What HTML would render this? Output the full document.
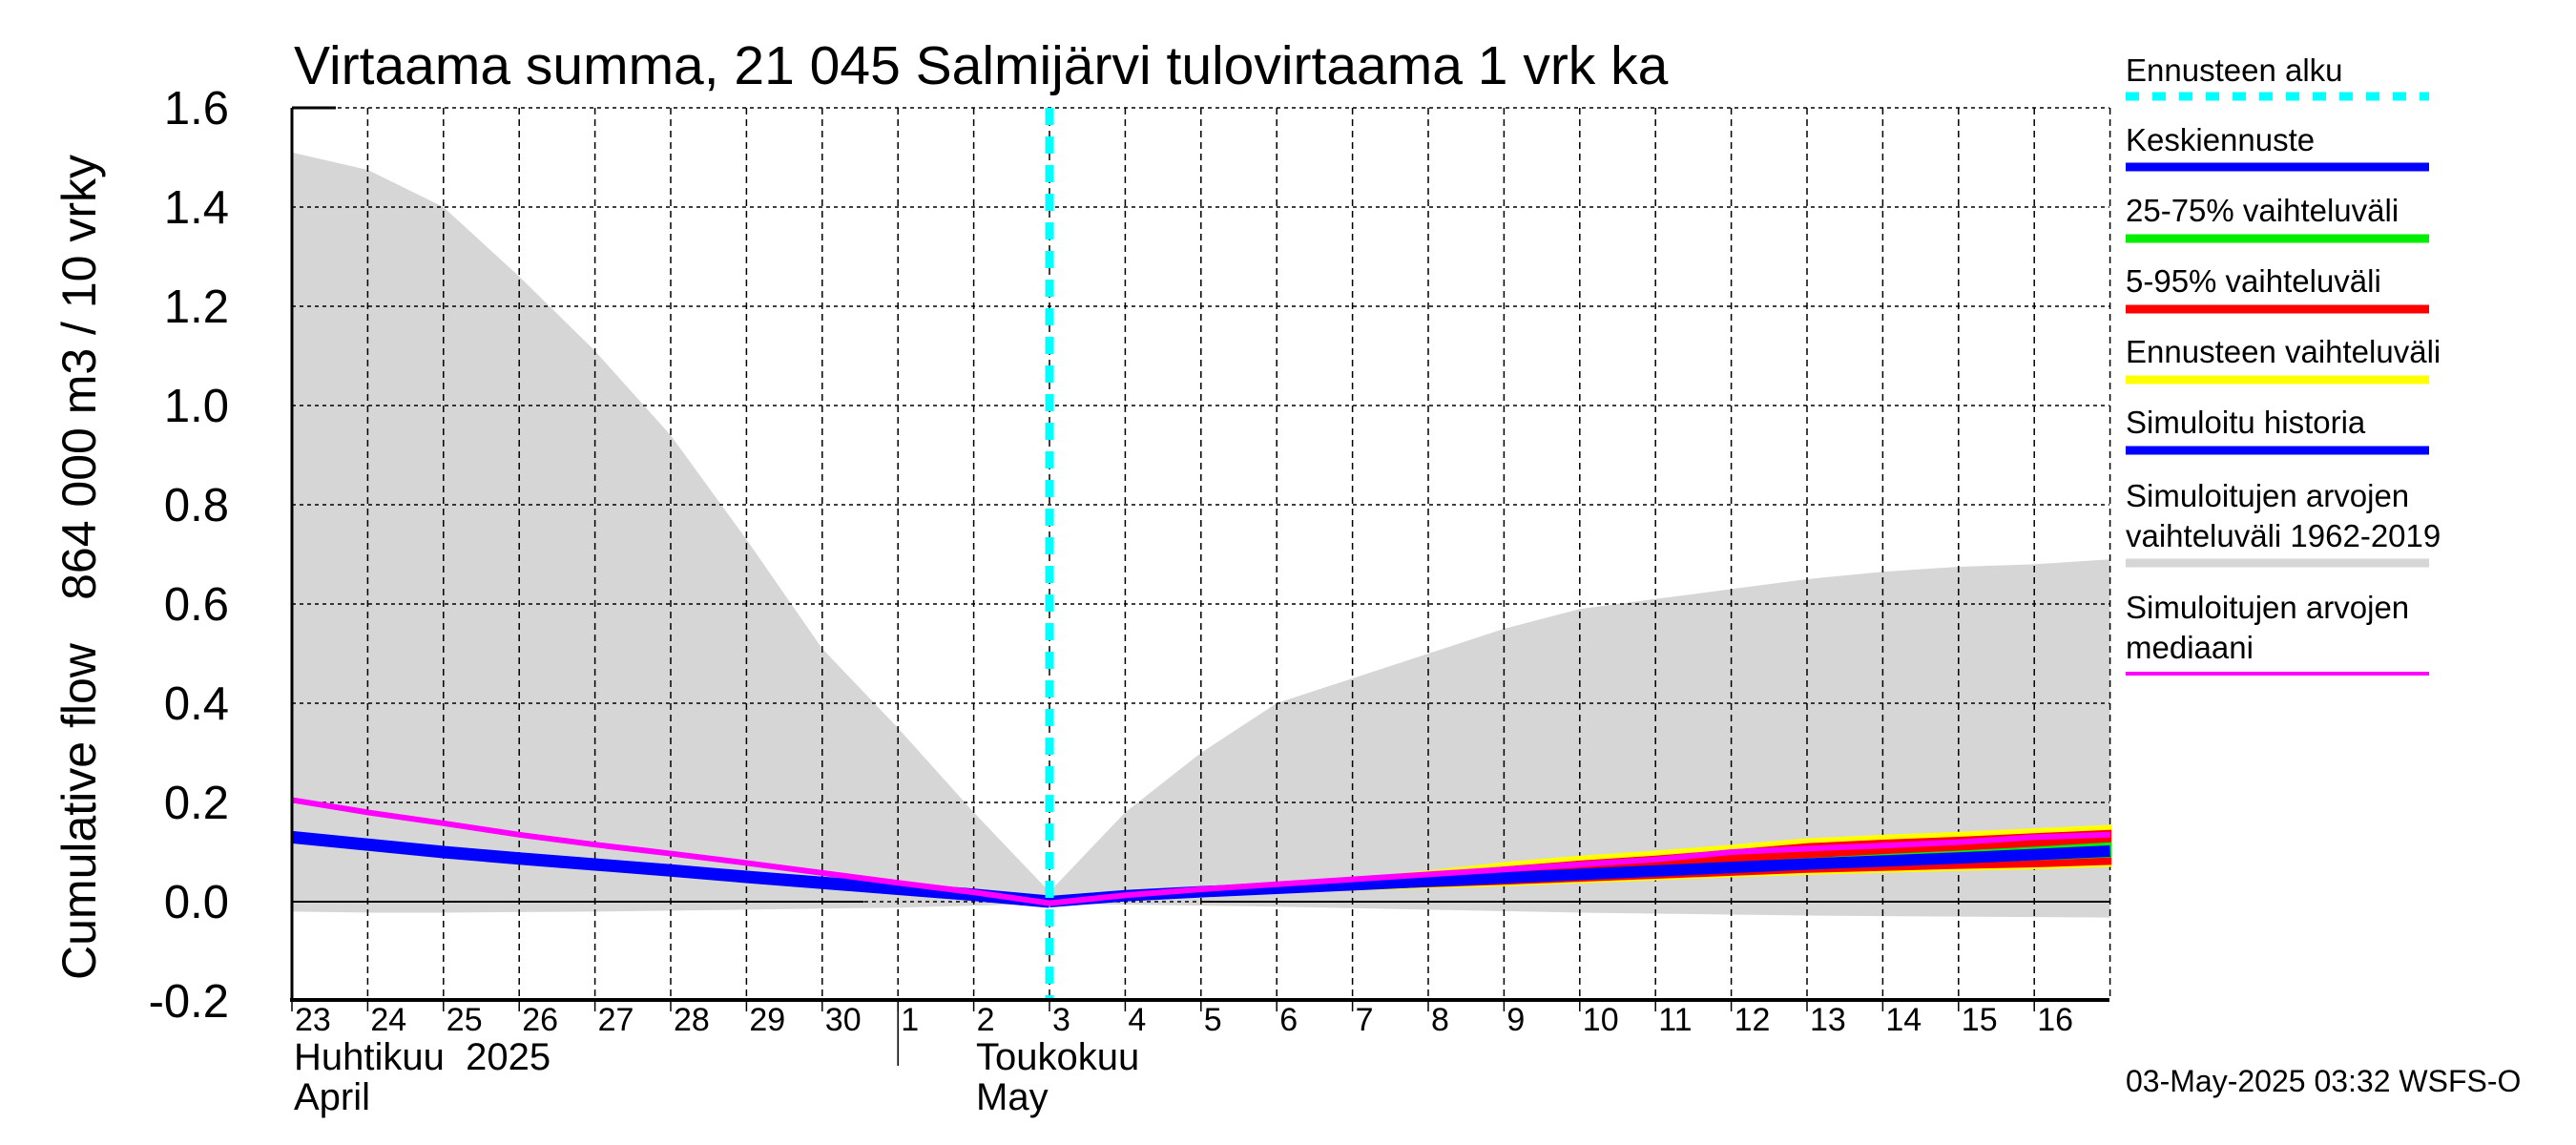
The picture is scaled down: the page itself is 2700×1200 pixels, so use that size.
<!DOCTYPE html>
<html><head><meta charset="utf-8"><style>
html,body{margin:0;padding:0;background:#fff;}
svg{display:block;font-family:"Liberation Sans",sans-serif;}
</style></head><body>
<svg id="chart" width="2700" height="1200" viewBox="0 0 2700 1200" xmlns="http://www.w3.org/2000/svg">
<text x="308" y="88" font-size="57">Virtaama summa, 21 045 Salmijärvi tulovirtaama 1 vrk ka</text>
<text transform="translate(100,1027) rotate(-90)" text-anchor="start" font-size="50">Cumulative flow</text>
<text transform="translate(100,162) rotate(-90)" text-anchor="end" font-size="50">864 000 m3 / 10 vrky</text>
<g id="plot"></g>
<g id="legend"></g>
<text x="2228" y="1144" font-size="32">03-May-2025 03:32 WSFS-O</text>
</svg>
<script>
const dayLabels = ["23","24","25","26","27","28","29","30","1","2","3","4","5","6","7","8","9","10","11","12","13","14","15","16"];
const yTicks = [-0.2,0,0.2,0.4,0.6,0.8,1.0,1.2,1.4,1.6];
const histDays = [0,1,2,3,4,5,6,7,8,9,10];
const simHistory = [0.13,0.115,0.10,0.087,0.075,0.063,0.05,0.038,0.026,0.014,0.0];
const fcDays = [10,11,12,13,14,15,16,17,18,19,20,21,22,23,24];
const fcMean = [0.0,0.012,0.02,0.027,0.034,0.041,0.048,0.055,0.062,0.069,0.076,0.082,0.088,0.095,0.102];
const fcMax = [0.0,0.013,0.025,0.035,0.045,0.06,0.077,0.09,0.10,0.112,0.125,0.132,0.138,0.145,0.152];
const fcP95 = [0.0,0.012,0.023,0.033,0.042,0.053,0.068,0.08,0.09,0.102,0.115,0.122,0.128,0.135,0.142];
const fcP75 = [0.0,0.012,0.021,0.029,0.037,0.045,0.053,0.061,0.069,0.077,0.085,0.093,0.10,0.108,0.117];
const fcP25 = [0.0,0.011,0.019,0.025,0.031,0.037,0.043,0.049,0.055,0.061,0.068,0.074,0.080,0.086,0.092];
const fcP05 = [0.0,0.01,0.017,0.022,0.027,0.032,0.037,0.043,0.049,0.055,0.061,0.065,0.069,0.072,0.077];
const fcMin = [0.0,0.01,0.016,0.021,0.025,0.03,0.034,0.04,0.046,0.052,0.057,0.061,0.065,0.068,0.073];
const allDays = [0,1,2,3,4,5,6,7,8,9,10,11,12,13,14,15,16,17,18,19,20,21,22,23,24];
const bandUpper = [1.51,1.475,1.40,1.26,1.11,0.94,0.73,0.51,0.35,0.18,0.02,0.18,0.30,0.40,0.45,0.50,0.55,0.59,0.61,0.63,0.65,0.665,0.675,0.68,0.69];
const bandLower = [-0.02,-0.022,-0.022,-0.021,-0.02,-0.018,-0.016,-0.014,-0.012,-0.008,-0.004,-0.006,-0.008,-0.01,-0.013,-0.016,-0.019,-0.022,-0.024,-0.026,-0.028,-0.029,-0.03,-0.031,-0.032];
const median = [0.205,0.18,0.158,0.135,0.115,0.097,0.078,0.058,0.038,0.019,-0.003,0.013,0.025,0.035,0.045,0.055,0.065,0.075,0.085,0.10,0.107,0.113,0.12,0.13,0.135];
const forecastStart = 10;

const X0=306, DX=79.4, Y0=945, YU=520, RIGHT=2211, TOP=113, BOT=1048;
const xs = d => X0 + d*DX;
const ys = v => Y0 - v*YU;
const NS="http://www.w3.org/2000/svg";
const plot=document.getElementById('plot');
function mk(tag, attrs, parent){const e=document.createElementNS(NS,tag);for(const k in attrs)e.setAttribute(k,attrs[k]);(parent||plot).appendChild(e);return e;}
function band(days, up, lo){let p=days.map((d,i)=>xs(d)+','+ys(up[i]));for(let i=days.length-1;i>=0;i--)p.push(xs(days[i])+','+ys(lo[i]));return p.join(' ');}
function line(days, vals){return days.map((d,i)=>xs(d)+','+ys(vals[i])).join(' ');}

let e;
e=mk('polygon',{points:band(allDays,bandUpper,bandLower),fill:'#d6d6d6'});


yTicks.forEach(v=>{
  const g=mk('line',{x1:X0,x2:RIGHT,y1:ys(v),y2:ys(v),stroke:'#000','stroke-width':1.5,'stroke-dasharray':'4,4'});
  
  
  const t=mk('text',{x:240,y:ys(v)+17,'text-anchor':'end','font-size':49});
  t.textContent=(v<0?'-':'')+Math.abs(v).toFixed(1);
  
  
});
for(let d=1; d<=24; d++){
  const g=mk('line',{x1:xs(d),x2:xs(d),y1:TOP,y2:BOT,stroke:'#000','stroke-width':1.5,'stroke-dasharray':'7,5'});
  
  
}
dayLabels.forEach((lab,i)=>{
  const tk=mk('line',{x1:xs(i),x2:xs(i),y1:BOT,y2:BOT+12,stroke:'#000','stroke-width':1.5});
  
  
  const t=mk('text',{x:xs(i)+3,y:1080,'font-size':34});
  t.textContent=lab;
  
  
});
e=mk('line',{x1:X0,x2:xs(7.55),y1:ys(0),y2:ys(0),stroke:'#000','stroke-width':2});


e=mk('line',{x1:xs(12),x2:RIGHT,y1:ys(0),y2:ys(0),stroke:'#000','stroke-width':2});


[[fcMax,fcMin,'#ffff00','forecast-range'],[fcP95,fcP05,'#ff0000','p5-95-range'],[fcP75,fcP25,'#00ee00','p25-75-range']].forEach(b=>{
  const p=mk('polygon',{points:band(fcDays,b[0],b[1]),fill:b[2],stroke:b[2],'stroke-width':3});
  
  
});
e=mk('polyline',{points:line(histDays,simHistory),fill:'none',stroke:'#0000ff','stroke-width':13});


e=mk('polyline',{points:line(fcDays,fcMean),fill:'none',stroke:'#0000ff','stroke-width':12});


e=mk('polyline',{points:line(allDays,median),fill:'none',stroke:'#ff00ff','stroke-width':6});


e=mk('line',{x1:xs(forecastStart),x2:xs(forecastStart),y1:TOP,y2:BOT,stroke:'#00ffff','stroke-width':9,'stroke-dasharray':'18,12'});


e=mk('line',{x1:X0,x2:X0,y1:TOP,y2:BOT,stroke:'#000','stroke-width':3});


e=mk('line',{x1:X0,x2:352,y1:TOP,y2:TOP,stroke:'#000','stroke-width':3});


e=mk('line',{x1:X0-2,x2:RIGHT,y1:BOT,y2:BOT,stroke:'#000','stroke-width':4});


e=mk('line',{x1:xs(8),x2:xs(8),y1:BOT,y2:1117,stroke:'#000','stroke-width':1.5});


[['Huhtikuu  2025',308,1121,'month-label-fi'],['April',308,1163,'month-label-en'],['Toukokuu',1023,1121,'month-label-fi'],['May',1023,1163,'month-label-en']].forEach(m=>{
  const t=mk('text',{x:m[1],y:m[2],'font-size':40});
  t.setAttributeNS('http://www.w3.org/XML/1998/namespace','xml:space','preserve');
  t.textContent=m[0];
  
  
});
const leg=document.getElementById('legend');
const legItems=[
 [['Ennusteen alku'],85,101,'#00ffff',true],
 [['Keskiennuste'],158,175,'#0000ff'],
 [['25-75% vaihteluväli'],232,250,'#00ee00'],
 [['5-95% vaihteluväli'],306,324,'#ff0000'],
 [['Ennusteen vaihteluväli'],380,398,'#ffff00'],
 [['Simuloitu historia'],454,472,'#0000ff'],
 [['Simuloitujen arvojen','vaihteluväli 1962-2019'],531,590,'#d6d6d6'],
 [['Simuloitujen arvojen','mediaani'],648,706,'#ff00ff',false,4]
];
legItems.forEach(it=>{
  it[0].forEach((s,j)=>{
    const t=mk('text',{x:2228,y:it[1]+j*42,'font-size':33},leg);
    t.textContent=s;
    
    
  });
  const l=mk('line',{x1:2228,x2:2546,y1:it[2],y2:it[2],stroke:it[3],'stroke-width':it[5]||9},leg);
  if(it[4]) l.setAttribute('stroke-dasharray','14,14');
  
  
});
</script>
</body></html>
